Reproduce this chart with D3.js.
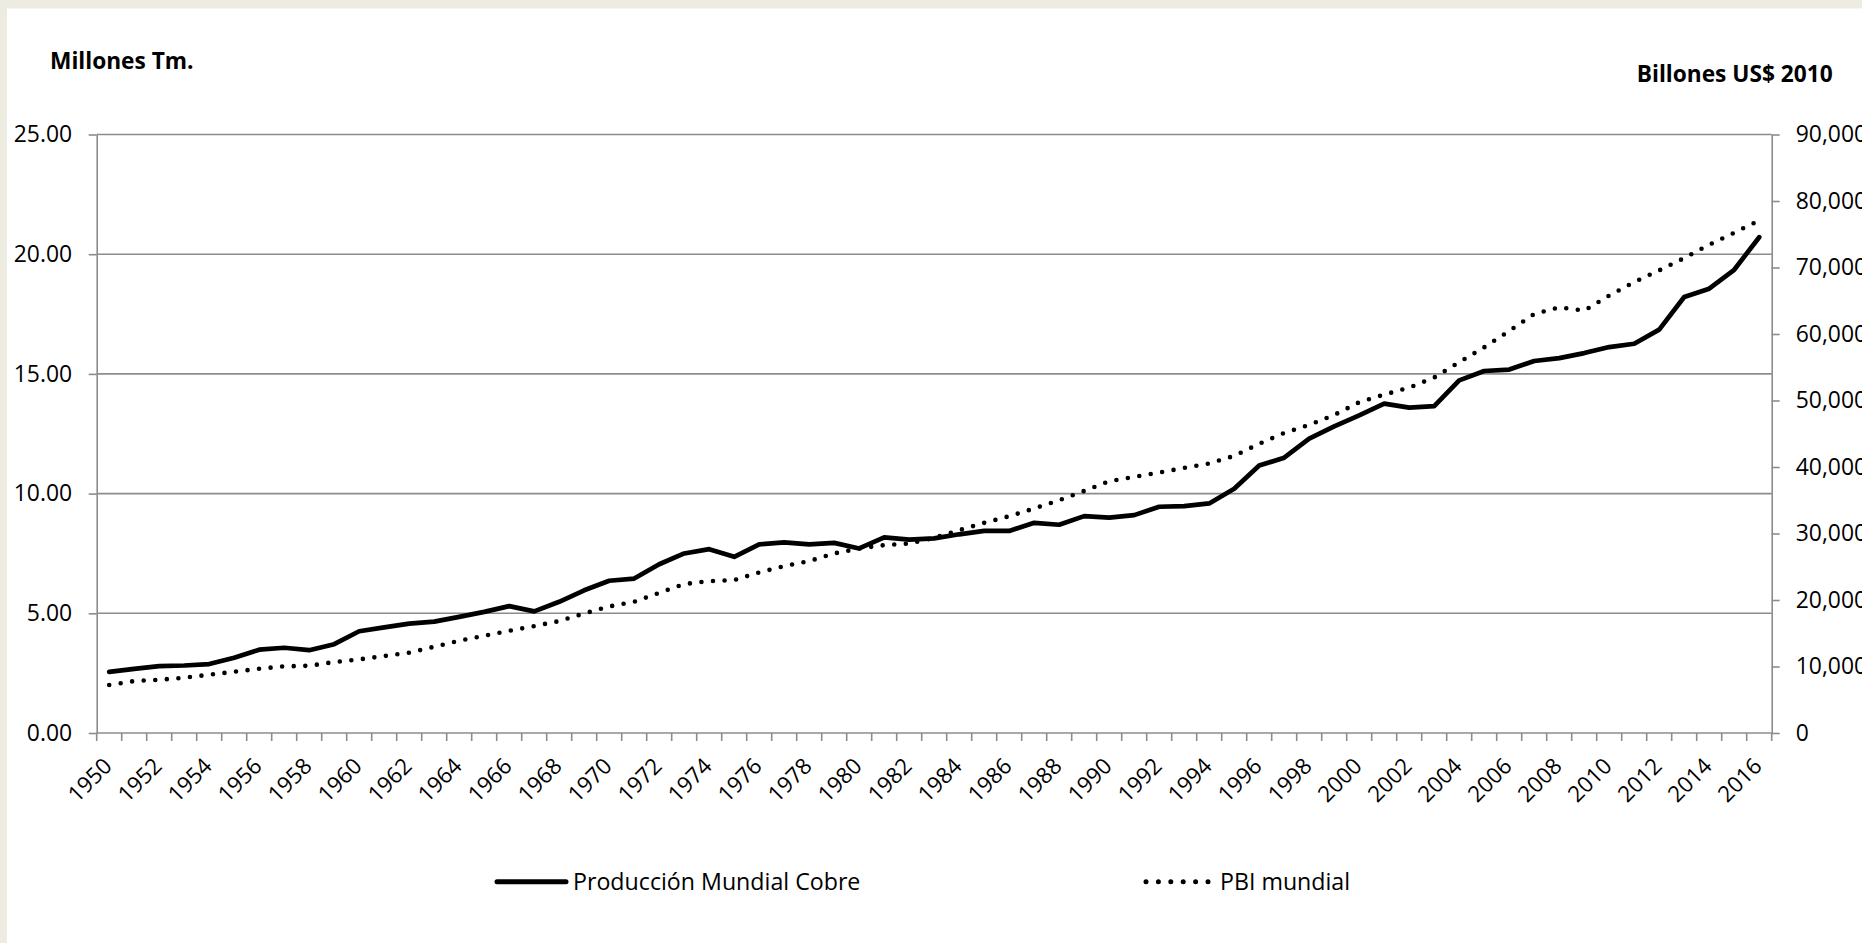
<!DOCTYPE html>
<html>
<head>
<meta charset="utf-8">
<title>Producción Mundial Cobre y PBI mundial</title>
<script src="https://cdn.jsdelivr.net/npm/d3@7"></script>
<style>
body { margin: 0; background: #eeebe0; }
svg { display: block; }
.axis text { font: 22.9px "Open Sans", sans-serif; fill: #000; }
.axis line, .axis path { stroke: #8c8c8c; stroke-width: 1.6px; }
.xlabels text { font: 22.3px "Open Sans", sans-serif; fill: #000; }
.grid line { stroke: #8c8c8c; stroke-width: 1.6px; }
.title { font: bold 22.7px "Open Sans", sans-serif; fill: #000; }
.legend text { font: 23.2px "Open Sans", sans-serif; fill: #000; }
</style>
</head>
<body>
<svg width="1862" height="943"></svg>
<script>
var years = [1950, 1951, 1952, 1953, 1954, 1955, 1956, 1957, 1958, 1959,
  1960, 1961, 1962, 1963, 1964, 1965, 1966, 1967, 1968, 1969,
  1970, 1971, 1972, 1973, 1974, 1975, 1976, 1977, 1978, 1979,
  1980, 1981, 1982, 1983, 1984, 1985, 1986, 1987, 1988, 1989,
  1990, 1991, 1992, 1993, 1994, 1995, 1996, 1997, 1998, 1999,
  2000, 2001, 2002, 2003, 2004, 2005, 2006, 2007, 2008, 2009,
  2010, 2011, 2012, 2013, 2014, 2015, 2016];

// Producción mundial de cobre, millones de toneladas
var copper = [2.55, 2.68, 2.79, 2.82, 2.88, 3.14, 3.48, 3.56, 3.46, 3.71,
  4.25, 4.41, 4.57, 4.65, 4.85, 5.06, 5.30, 5.08, 5.48, 5.96,
  6.36, 6.45, 7.05, 7.50, 7.68, 7.36, 7.88, 7.96, 7.88, 7.94,
  7.71, 8.17, 8.08, 8.13, 8.30, 8.44, 8.44, 8.78, 8.70, 9.06,
  9.00, 9.10, 9.45, 9.48, 9.59, 10.20, 11.17, 11.50, 12.30, 12.81,
  13.27, 13.76, 13.59, 13.65, 14.73, 15.12, 15.18, 15.54, 15.66, 15.87,
  16.12, 16.26, 16.85, 18.21, 18.56, 19.35, 20.71];

// PBI mundial, billones US$ 2010
var gdp = [7210, 7810, 8010, 8310, 8760, 9210, 9660, 10020, 10110, 10670,
  11070, 11570, 12070, 12970, 13870, 14620, 15370, 16080, 16830, 17980,
  19030, 19730, 21080, 22390, 22840, 22990, 24150, 25090, 25850, 27000,
  27750, 28250, 28500, 29350, 30500, 31600, 32600, 33760, 35010, 36400,
  37870, 38500, 39170, 39860, 40520, 41670, 43500, 45120, 46330, 47830,
  49740, 50890, 51940, 53450, 55750, 58000, 60450, 63010, 64010, 63510,
  65770, 67810, 69570, 71420, 73430, 75230, 77080];

var leftTicks = [0, 5, 10, 15, 20, 25];
var rightTicks = [0, 10000, 20000, 30000, 40000, 50000, 60000, 70000, 80000, 90000];
var seriesNames = ["Producción Mundial Cobre", "PBI mundial"];
var axisTitles = ["Millones Tm.", "Billones US$ 2010"];

(function() {
  var svg = d3.select("svg"),
      margin = {top: 134.5, right: 90.3, bottom: 210, left: 96.7},
      width = +svg.attr("width") - margin.left - margin.right,
      height = +svg.attr("height") - margin.top - margin.bottom;

  // white chart area on the beige page
  svg.append("rect")
    .attr("x", 7).attr("y", 8.5)
    .attr("width", 1862 - 7).attr("height", 943 - 8.5)
    .attr("fill", "#fff");

  var g = svg.append("g").attr("transform", "translate(" + margin.left + "," + margin.top + ")");

  var x = d3.scaleBand().domain(years).range([0, width]);
  var yL = d3.scaleLinear().domain([0, 25]).range([height, 0]);
  var yR = d3.scaleLinear().domain([0, 90000]).range([height, 0]);
  var cx = function(d, i) { return x(years[i]) + x.bandwidth() / 2; };

  // gridlines
  g.append("g").attr("class", "grid")
    .selectAll("line")
    .data(leftTicks.slice(1))
    .join("line")
      .attr("x1", 0).attr("x2", width)
      .attr("y1", yL).attr("y2", yL);

  // left axis
  g.append("g").attr("class", "axis")
    .call(d3.axisLeft(yL).tickValues(leftTicks).tickFormat(d3.format(".2f"))
      .tickSizeInner(8).tickSizeOuter(0).tickPadding(16.6));

  // right axis
  g.append("g").attr("class", "axis")
    .attr("transform", "translate(" + width + ",0)")
    .call(d3.axisRight(yR).tickValues(rightTicks).tickFormat(d3.format(","))
      .tickSizeInner(8).tickSizeOuter(0).tickPadding(16));

  // bottom axis: line + ticks between categories
  var xa = g.append("g").attr("class", "axis");
  xa.append("line")
    .attr("x1", 0).attr("x2", width)
    .attr("y1", height).attr("y2", height);
  xa.selectAll("line.tk")
    .data(years.map(function(d) { return x(d); }).concat([width]))
    .join("line").attr("class", "tk")
      .attr("x1", function(d) { return d; }).attr("x2", function(d) { return d; })
      .attr("y1", height).attr("y2", height + 8);

  g.append("g").attr("class", "xlabels")
    .selectAll("text")
    .data(years.filter(function(d, i) { return i % 2 === 0; }))
    .join("text")
      .attr("text-anchor", "end")
      .attr("transform", function(d) {
        return "translate(" + (x(d) + x.bandwidth() / 2 + 4) + "," + (height + 34.5) + ") rotate(-45)";
      })
      .text(function(d) { return d; });

  // series
  var copperLine = d3.line().x(cx).y(function(d) { return yL(d); });
  var gdpLine = d3.line().x(cx).y(function(d) { return yR(d); });

  g.append("path")
    .datum(gdp)
    .attr("fill", "none")
    .attr("stroke", "#000")
    .attr("stroke-width", 4.6)
    .attr("stroke-linecap", "round")
    .attr("stroke-dasharray", "0 11.6")
    .attr("d", gdpLine);

  g.append("path")
    .datum(copper)
    .attr("fill", "none")
    .attr("stroke", "#000")
    .attr("stroke-width", 4.7)
    .attr("stroke-linejoin", "round")
    .attr("stroke-linecap", "round")
    .attr("d", copperLine);

  // axis titles
  svg.append("text").attr("class", "title")
    .attr("x", 50).attr("y", 69.3)
    .text(axisTitles[0]);
  svg.append("text").attr("class", "title")
    .attr("x", 1832.7).attr("y", 81.7)
    .attr("text-anchor", "end")
    .text(axisTitles[1]);

  // legend
  var legend = svg.append("g").attr("class", "legend");
  legend.append("line")
    .attr("x1", 497).attr("x2", 566).attr("y1", 881.7).attr("y2", 881.7)
    .attr("stroke", "#000").attr("stroke-width", 5).attr("stroke-linecap", "round");
  legend.append("text")
    .attr("x", 573).attr("y", 881.7).attr("dy", "0.35em")
    .text(seriesNames[0]);
  legend.append("line")
    .attr("x1", 1146).attr("x2", 1208.1).attr("y1", 881.7).attr("y2", 881.7)
    .attr("stroke", "#000").attr("stroke-width", 5).attr("stroke-linecap", "round")
    .attr("stroke-dasharray", "0 12.4");
  legend.append("text")
    .attr("x", 1220).attr("y", 881.7).attr("dy", "0.35em")
    .text(seriesNames[1]);
})();
</script>
</body>
</html>
